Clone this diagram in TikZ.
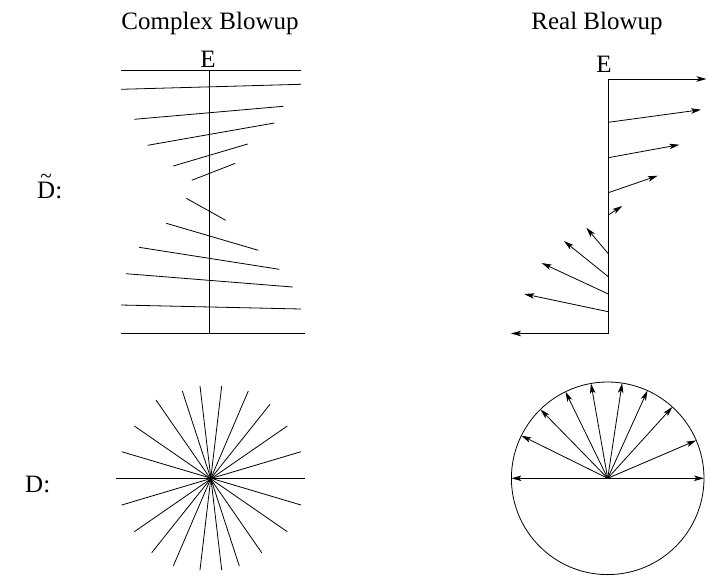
\documentclass[tikz,border=0pt]{standalone}
\usepackage{fontspec}
\setmainfont{Liberation Serif}
\usetikzlibrary{arrows.meta}
\begin{document}
\begin{tikzpicture}[x=1pt,y=-1pt,
  ln/.style={line width=0.8pt},
  arr/.style={ln,-{Stealth[length=10pt,width=5.5pt,inset=2.5pt]}},
  lbl/.style={font=\fontsize{25}{29}\selectfont, inner sep=0pt, anchor=base}]
\path[use as bounding box] (0,0) rectangle (707,579);

% titles and labels
\node[lbl] (t1) at (210,29) {Complex Blowup};
\node[lbl] (t2) at (597,29) {Real Blowup};
\node[lbl] (e1) at (208,67) {E};
\node[lbl] (e2) at (604,72) {E};
\node[lbl,anchor=base west] (dt) at (37,198)
  {\ooalign{D\cr\hidewidth\raisebox{0.6em}{\scalebox{0.85}[0.9]{\char"7E}}\hidewidth\cr}:};
\node[lbl,anchor=base west] (d) at (25,492) {D:};

% complex blowup
\coordinate (ct) at (209,70);
\coordinate (cb) at (209,333.5);
\draw[ln] (ct) -- (cb);
\draw[ln] (121,70) -- (301,70);
\draw[ln] (121,89.3) -- (301,84.3);
\draw[ln] (134.3,119.3) -- (283.3,106.3);
\draw[ln] (147.7,145.3) -- (274.3,123);
\draw[ln] (173.3,166) -- (247.7,144);
\draw[ln] (191.7,180.3) -- (235.3,163.3);
\draw[ln] (186.3,198.3) -- (225.7,220.3);
\draw[ln] (166.3,223.3) -- (258.3,250.3);
\draw[ln] (139,247.3) -- (279.3,269.3);
\draw[ln] (126,273.7) -- (292.7,287);
\draw[ln] (121,305) -- (301,309);
\draw[ln] (121,333.5) -- (305.3,333.5);

% real blowup
\coordinate (rt) at (608.3,79);
\coordinate (rb) at (608.3,333.5);
\draw[ln] (rt) -- (rb);
\draw[arr] (rt) -- (706.5,79);
\draw[arr] (608.3,122.3) -- (701,109.7);
\draw[arr] (608.3,157.7) -- (679.3,144.7);
\draw[arr] (608.3,192.7) -- (657.7,175.7);
\draw[arr] (608.3,215) -- (622.3,206);
\draw[arr] (608.3,253.7) -- (586.3,227.7);
\draw[arr] (608.3,276.7) -- (564,241);
\draw[arr] (608.3,294) -- (541.7,263);
\draw[arr] (608.3,311.7) -- (524.3,294);
\draw[arr] (rb) -- (511,333.5);

% D: complex (star)
\coordinate (sc) at (210,478.3);
\draw[ln] (116,478.3) -- (305.3,478.3);
\draw[ln] (121.7,451.7) -- (301,505);
\draw[ln] (134.3,426) -- (287.3,531.7);
\draw[ln] (156,400) -- (261.7,552.7);
\draw[ln] (182.3,391) -- (239.3,566);
\draw[ln] (200,386) -- (221.7,570);
\draw[ln] (221.7,386) -- (200,570);
\draw[ln] (248.3,391) -- (173.3,566);
\draw[ln] (270,404.3) -- (151.7,552.7);
\draw[ln] (287.3,426) -- (134.3,531.7);
\draw[ln] (301,451.7) -- (121.7,505);

% D: real (circle)
\coordinate (rc) at (607.7,478.3);
\draw[ln] (rc) circle[radius=96.3pt];
\foreach \a in {0,23.2,47.8,65.6,81.4,100,116,134.3,153.7,180}
  \draw[arr] (rc) -- ++(\a:96.3pt);
\end{tikzpicture}
\end{document}
